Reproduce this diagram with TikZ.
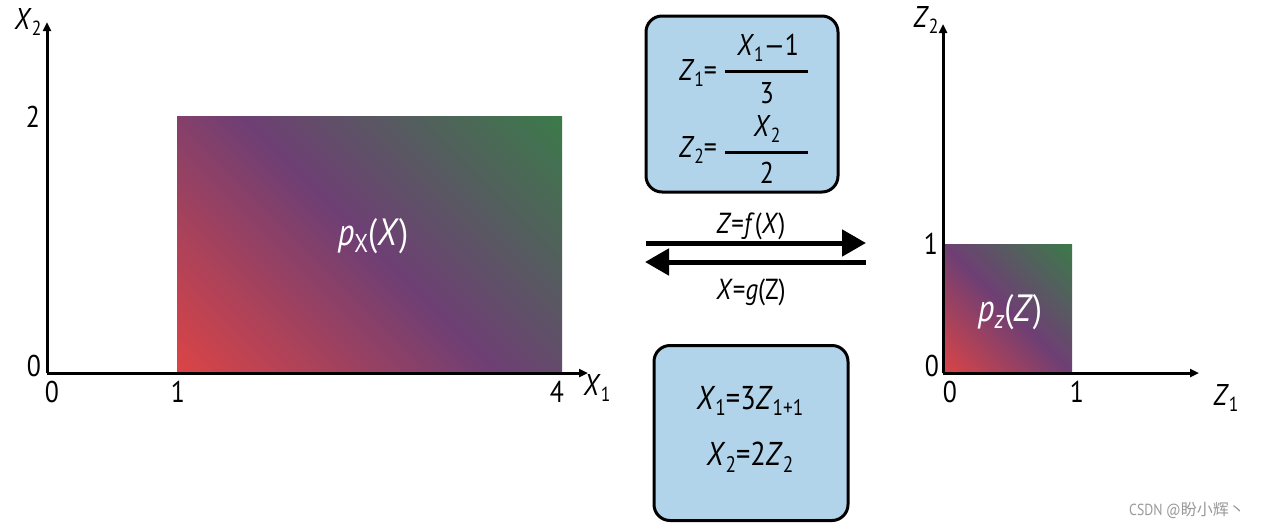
\documentclass[tikz,border=0pt]{standalone}
\usepackage{fontspec}
\setmainfont[FakeStretch=0.86]{PT Sans}
\newfontfamily\cjk{Noto Sans CJK SC}
\usetikzlibrary{arrows.meta}
\definecolor{boxblue}{RGB}{178,212,234}
\definecolor{gred}{RGB}{218,68,70}
\definecolor{gpurple}{RGB}{110,63,116}
\definecolor{ggreen}{RGB}{60,122,74}
\pgfdeclarehorizontalshading{rpg}{100bp}{color(0bp)=(gred); color(15bp)=(gred); color(50bp)=(gpurple); color(85bp)=(ggreen); color(100bp)=(ggreen)}
\newcommand\lowsub[1]{\raisebox{-0.2em}{\scalebox{0.68}{#1}}}
\tikzset{
  axis/.style={line width=3pt,-{Triangle[length=9pt,width=8pt]}},
  lbl/.style={font=\fontsize{30}{30}\selectfont, inner sep=0pt},
  eqbox/.style={draw=black, line width=3pt, fill=boxblue, rounded corners=16pt},
  bigarrow/.style={line width=5pt,-{Triangle[length=24pt,width=26pt]}},
  fracline/.style={line width=3pt},
}
\begin{document}
\begin{tikzpicture}[x=1pt,y=-1pt]
\fill[white] (0,0) rectangle (1269,528);
\useasboundingbox (0,0) rectangle (1269,528);
% ---------- left plot ----------
\coordinate (O1) at (47,373);
\coordinate (Y1) at (47,22);
\coordinate (X1) at (588,373);
\shade[shading=rpg, shading angle=45] (177,116) rectangle (562,373);
\node[lbl, text=white, font=\fontsize{38}{38}\selectfont] (px) at (373,236) {\textit{p}\lowsub{X}(\textit{X})};
\draw[axis] (O1) -- (Y1);
\draw[axis] (O1) -- (X1);
\node[lbl] (lx2) at (28,22) {\textit{X}\lowsub{2}};
\node[lbl] (lx1) at (597,388) {\textit{X}\lowsub{1}};
\node[lbl] (ly0) at (34,366) {0};
\node[lbl] (ly2) at (33,117) {2};
\node[lbl] (lxa) at (52,392) {0};
\node[lbl] (lxb) at (178,392) {1};
\node[lbl] (lxc) at (557,392) {4};
% ---------- right plot ----------
\coordinate (O2) at (943,373);
\coordinate (Y2) at (943,24);
\coordinate (X2) at (1199,373);
\shade[shading=rpg, shading angle=45] (943,244) rectangle (1072,373);
\node[lbl, text=white, font=\fontsize{38}{38}\selectfont] (pz) at (1010,312) {\textit{p}\lowsub{\textit{z}}(\textit{Z})};
\draw[axis] (O2) -- (Y2);
\draw[axis] (O2) -- (X2);
\node[lbl] (lz2) at (926,20) {\textit{Z}\lowsub{2}};
\node[lbl] (lz1) at (1226,398) {\textit{Z}\lowsub{1}};
\node[lbl] (lzy0) at (932,366) {0};
\node[lbl] (lzy1) at (931,244) {1};
\node[lbl] (lzxa) at (950,392) {0};
\node[lbl] (lzxb) at (1077,392) {1};
% ---------- top box ----------
\node[eqbox, minimum width=192pt, minimum height=176pt] (topbox) at (742,104) {};
\node[lbl] (z1) at (698,73) {\textit{Z}\lowsub{1}=};
\draw[fracline] (725,71) -- (808,71);
\node[lbl] (n1) at (768,48) {\textit{X}\lowsub{1}—1};
\node[lbl] (d1) at (767,93) {3};
\node[lbl] (z2) at (698,150) {\textit{Z}\lowsub{2}=};
\draw[fracline] (725,152) -- (808,152);
\node[lbl] (n2) at (767,129) {\textit{X}\lowsub{2}};
\node[lbl] (d2) at (767,173) {2};
% ---------- arrows ----------
\coordinate (a1s) at (646,243);
\coordinate (a1e) at (866,243);
\coordinate (a2s) at (866,262);
\coordinate (a2e) at (645,262);
\draw[bigarrow] (a1s) -- (a1e);
\draw[bigarrow] (a2s) -- (a2e);
\node[lbl, font=\fontsize{29}{29}\selectfont] (fwd) at (751,226) {\textit{Z}=\textit{f}(\textit{X})};
\node[lbl, font=\fontsize{29}{29}\selectfont] (bwd) at (751,292) {\textit{X}=\textit{g}(Z)};
% ---------- bottom box ----------
\node[eqbox, minimum width=194pt, minimum height=175pt] (botbox) at (751,433) {};
\node[lbl, font=\fontsize{33}{33}\selectfont] (e1) at (750,401) {\textit{X}\lowsub{1}=3\textit{Z}\lowsub{1}\lowsub{+1}};
\node[lbl, font=\fontsize{33}{33}\selectfont] (e2) at (750,457) {\textit{X}\lowsub{2}=2\textit{Z}\lowsub{2}};
% ---------- watermark ----------
\node[inner sep=0pt, text=gray!80, font=\fontsize{16}{16}\selectfont] (wm) at (1187,510) {CSDN @{\cjk 盼小辉丶}};
\end{tikzpicture}
\end{document}
